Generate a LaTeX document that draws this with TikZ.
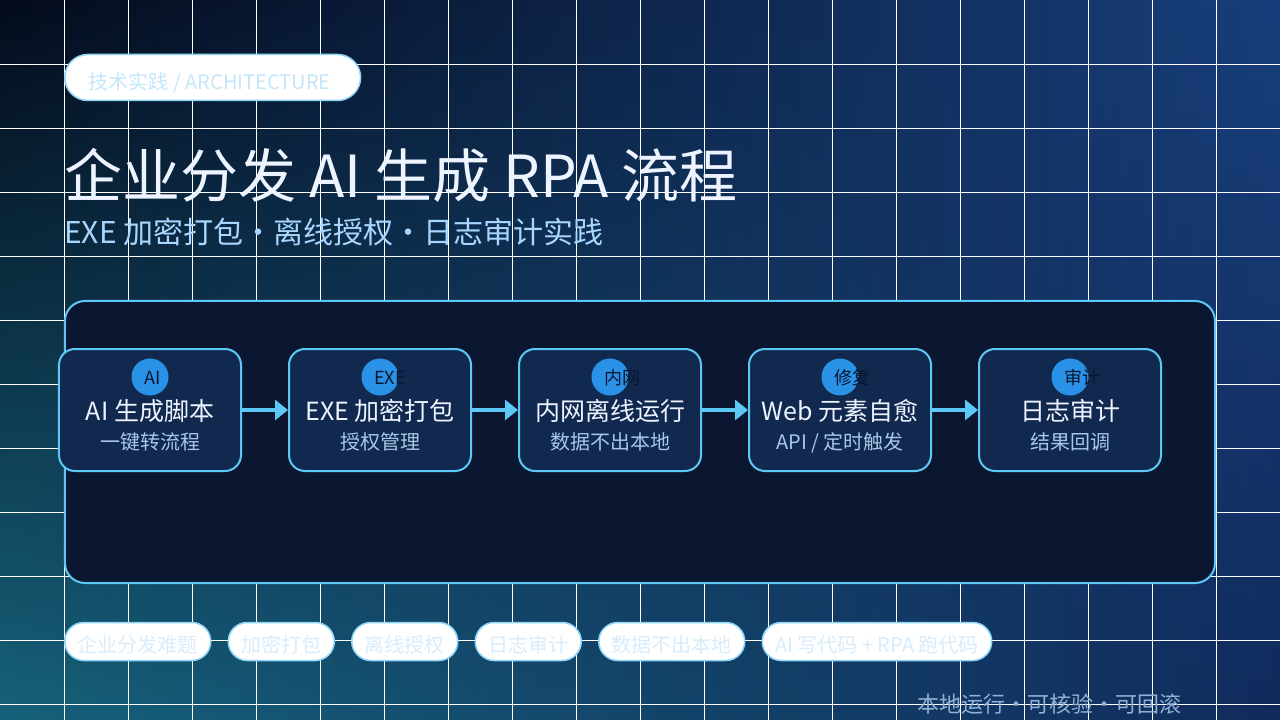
\documentclass[tikz,border=0pt]{standalone}
\usepackage{fontspec}
\setmainfont{Noto Sans CJK SC}
\usepackage{tikz}
\usepackage{xcolor}
\usetikzlibrary{arrows.meta,positioning,fadings}
\definecolor{bgtl}{HTML}{040B1B}
\definecolor{bgtm}{HTML}{0B2248}
\definecolor{bgtr}{HTML}{183F7C}
\definecolor{bgbl}{HTML}{16627A}
\definecolor{bgbm}{HTML}{133C6C}
\definecolor{bgbr}{HTML}{112A5C}
\definecolor{panelbg}{HTML}{0B1730}
\definecolor{cardbg}{HTML}{12294F}
\definecolor{edgeblue}{HTML}{5CC8F5}
\definecolor{pilledge}{HTML}{8DD6FA}
\definecolor{dotblue}{HTML}{2A92E6}
\definecolor{inkdark}{HTML}{0A1630}
\definecolor{titlewhite}{HTML}{EEF4FF}
\definecolor{subblue}{HTML}{A8D6FF}
\definecolor{tagtext}{HTML}{C4E6FB}
\definecolor{chiptext}{HTML}{D8ECFB}
\definecolor{cardsub}{HTML}{A9C6E8}
\definecolor{foottext}{HTML}{8FB0D4}
\newcommand\pxfont[1]{\fontsize{#1bp}{#1bp}\selectfont}
\tikzfading[name=fade to bottom,top color=transparent!100,bottom color=transparent!0]
\tikzset{
  gridline/.style={draw=white,line width=1bp},
  panel/.style={draw=edgeblue,fill=panelbg,line width=2bp,rounded corners=20bp,
                minimum width=1150bp,minimum height=282bp,inner sep=0pt},
  stepcard/.style={draw=edgeblue,fill=cardbg,line width=2bp,rounded corners=16bp,
                   minimum width=182bp,minimum height=122bp,inner sep=0pt},
  badge/.style={circle,fill=dotblue,minimum size=37bp,inner sep=0pt},
  badgetext/.style={anchor=base west,text=inkdark,font=\pxfont{18},inner sep=0pt},
  steptitle/.style={anchor=base,text=titlewhite,font=\pxfont{25},inner sep=0pt},
  stepsub/.style={anchor=base,text=cardsub,font=\pxfont{20},inner sep=0pt},
  flowarr/.style={-{Triangle[length=13bp,width=20bp]},line width=4bp,draw=edgeblue},
  chip/.style={draw=pilledge,fill=white,line width=1.5bp,rounded corners=19bp,
               minimum height=38bp,inner xsep=13bp,inner ysep=0pt,
               text height=25bp,text depth=2.5bp,
               text=chiptext,font=\pxfont{20}},
  tag/.style={draw=pilledge,fill=white,line width=1.5bp,rounded corners=23bp,
              minimum height=46bp,inner xsep=24bp,inner ysep=0pt,
              text height=26bp,text depth=2.5bp,
              text=tagtext,font=\pxfont{20}}
}

\begin{document}
\begin{tikzpicture}[x=1bp,y=-1bp]
    \path[use as bounding box] (0,0) rectangle (1280,720);

    % backdrop
    \shade[left color=bgtl,middle color=bgtm,right color=bgtr] (0,0) rectangle (1280,720);
    \shade[left color=bgbl,middle color=bgbm,right color=bgbr,path fading=fade to bottom]
      (0,0) rectangle (1280,720);
    \foreach \x in {64,128,...,1216} \draw[gridline] (\x+0.5,0) -- (\x+0.5,720);
    \foreach \y in {64,128,...,704} \draw[gridline] (0,\y+0.5) -- (1280,\y+0.5);

    % header
    \node[tag,anchor=west] (tagpill) at (64,77.5) {技术实践 / ARCHITECTURE\kern6bp};
    \node[anchor=base west,inner sep=0pt,text=titlewhite,font=\pxfont{58}] (headline)
      at (64,198) {企业分发 AI 生成 RPA 流程};
    \node[anchor=base west,inner sep=0pt,text=subblue,font=\pxfont{30}] (subline)
      at (64,244) {EXE 加密打包·离线授权·日志审计实践};

    % pipeline
    \node[panel] (board) at (640,442) {};

    \node[stepcard] (aistep) at (150,410) {};
    \node[badge] (aibadge) at (150,377) {};
    \node[badgetext] (aitag) at (144,384) {AI};
    \node[steptitle] (aititle) at (150,420) {AI 生成脚本};
    \node[stepsub] (aisub) at (150,449) {一键转流程};

    \node[stepcard] (exestep) at (380,410) {};
    \node[badge] (exebadge) at (380,377) {};
    \node[badgetext] (exetag) at (374,384) {EXE};
    \node[steptitle] (exetitle) at (380,420) {EXE 加密打包};
    \node[stepsub] (exesub) at (380,449) {授权管理};

    \node[stepcard] (lanstep) at (610,410) {};
    \node[badge] (lanbadge) at (610,377) {};
    \node[badgetext] (lantag) at (604,384) {内网};
    \node[steptitle] (lantitle) at (610,420) {内网离线运行};
    \node[stepsub] (lansub) at (610,449) {数据不出本地};

    \node[stepcard] (webstep) at (840,410) {};
    \node[badge] (webbadge) at (840,377) {};
    \node[badgetext] (webtag) at (834,384) {修复};
    \node[steptitle] (webtitle) at (840,420) {Web 元素自愈};
    \node[stepsub] (websub) at (840,449) {API / 定时触发};

    \node[stepcard] (logstep) at (1070,410) {};
    \node[badge] (logbadge) at (1070,377) {};
    \node[badgetext] (logtag) at (1064,384) {审计};
    \node[steptitle] (logtitle) at (1070,420) {日志审计};
    \node[stepsub] (logsub) at (1070,449) {结果回调};

    \draw[flowarr] (aistep) -- (exestep);
    \draw[flowarr] (exestep) -- (lanstep);
    \draw[flowarr] (lanstep) -- (webstep);
    \draw[flowarr] (webstep) -- (logstep);

    % keywords
    \node[chip,anchor=west] (chipa) at (64,641.5) {企业分发难题};
    \node[chip,right=16bp of chipa] (chipb) {加密打包};
    \node[chip,right=16bp of chipb] (chipc) {离线授权};
    \node[chip,right=16bp of chipc] (chipd) {日志审计};
    \node[chip,right=16bp of chipd] (chipe) {数据不出本地};
    \node[chip,right=16bp of chipe] (chipf) {AI 写代码 + RPA 跑代码};

    \node[anchor=base west,inner sep=0pt,text=foottext,font=\pxfont{22}] (footline)
      at (917,712) {本地运行·可核验·可回滚};
  \end{tikzpicture}
\end{document}
